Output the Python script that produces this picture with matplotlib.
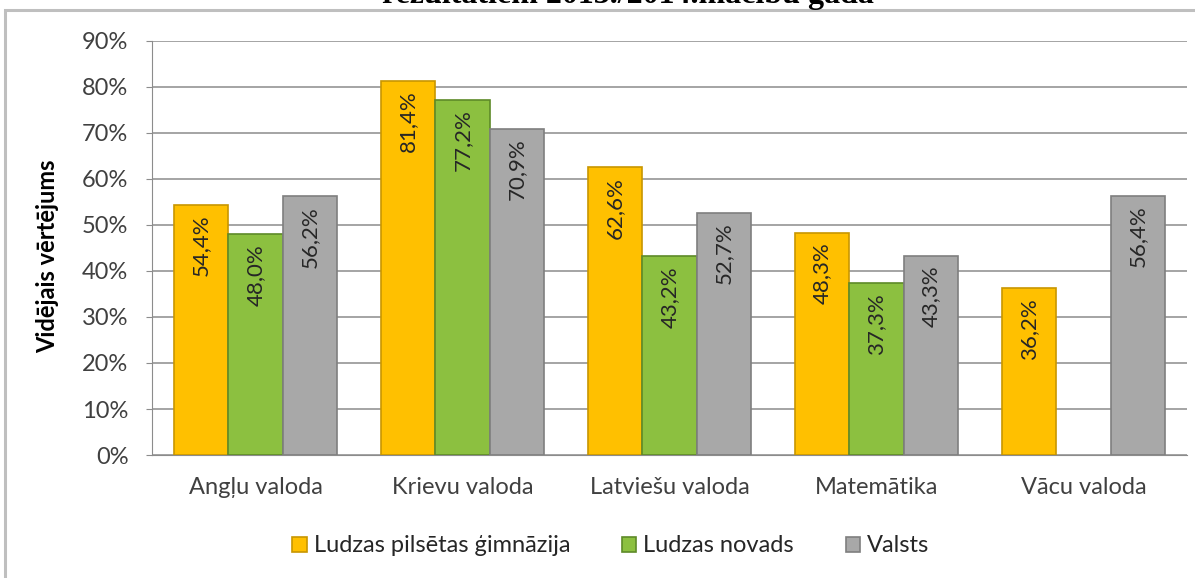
import matplotlib.pyplot as plt
import numpy as np
from matplotlib.patches import Rectangle

# data
subjects = ["Angļu valoda", "Krievu valoda", "Latviešu valoda", "Matemātika", "Vācu valoda"]
series_names = ["Ludzas pilsētas ģimnāzija", "Ludzas novads", "Valsts"]
gimnazija = [54.4, 81.4, 62.6, 48.3, 36.2]
novads = [48.0, 77.2, 43.2, 37.3, np.nan]
valsts = [56.2, 70.9, 52.7, 43.3, 56.4]
yticks = [0, 10, 20, 30, 40, 50, 60, 70, 80, 90]

face = ["#FFC000", "#8CC040", "#A8A8A8"]
edge = ["#C89600", "#5E8A28", "#7F7F7F"]
txt = "#404040"

plt.rcParams['font.family'] = ['Lato', 'DejaVu Sans']

fig = plt.figure(figsize=(11.95, 5.78), dpi=100)
ax = fig.add_axes([152 / 1195, 1 - 455 / 578, 1035 / 1195, 414 / 578])

# outer chart frame
fig.patches.append(Rectangle((5 / 1195, -0.1), 1.2, 1 - 10 / 578 + 0.1, transform=fig.transFigure,
                             fill=False, edgecolor="#BFBFBF", lw=2.2, zorder=0))

# title, cut off by the top edge like in the source
fig.text(628 / 1195, 1 - 3 / 578, "rezultātiem 2013./2014.mācību gada", ha="center", va="baseline",
         family="Liberation Serif", weight="bold", fontsize=23, color="black")

x = np.arange(len(subjects))
w = 0.262
for i, vals in enumerate([gimnazija, novads, valsts]):
    pos = x + (i - 1) * w
    ax.bar(pos, vals, width=w, color=face[i], edgecolor=edge[i], linewidth=1.2,
           label=series_names[i], zorder=3)
    for xp, v in zip(pos, vals):
        if np.isnan(v):
            continue
        ax.annotate(f"{v:.1f}%".replace(".", ","), (xp, v), xytext=(0, -7), textcoords="offset points",
                    rotation=90, ha="center", va="top", fontsize=16, color="#262626", zorder=4)

ax.set_xlim(-0.5, len(subjects) - 0.5)
ax.set_ylim(0, 90)
ax.set_yticks(yticks)
ax.set_yticklabels([f"{t}%" for t in yticks])
ax.set_xticks(x)
ax.set_xticklabels(subjects)
ax.yaxis.grid(True, color="#8C8C8C", lw=1.1, zorder=0)
ax.set_axisbelow(True)
for s in ["top", "right"]:
    ax.spines[s].set_visible(False)
ax.spines["left"].set_color("#8C8C8C")
ax.spines["bottom"].set_color("#8C8C8C")
ax.tick_params(axis="y", length=4, color="#8C8C8C", pad=13, labelsize=17, labelcolor=txt)
ax.tick_params(axis="x", length=0, pad=16, labelsize=17, labelcolor=txt)

ax.set_ylabel("Vidējais vērtējums", fontsize=17, weight="bold", color="black")
ax.yaxis.set_label_coords(-0.09, 0.48)

fig.legend(loc="center", bbox_to_anchor=(611 / 1195, 1 - 546 / 578), ncol=3, frameon=False,
           fontsize=17, handlelength=0.6, handleheight=0.6, handletextpad=0.3, columnspacing=2.2,
           labelcolor="#262626")

fig.savefig("out.png", dpi=100)
